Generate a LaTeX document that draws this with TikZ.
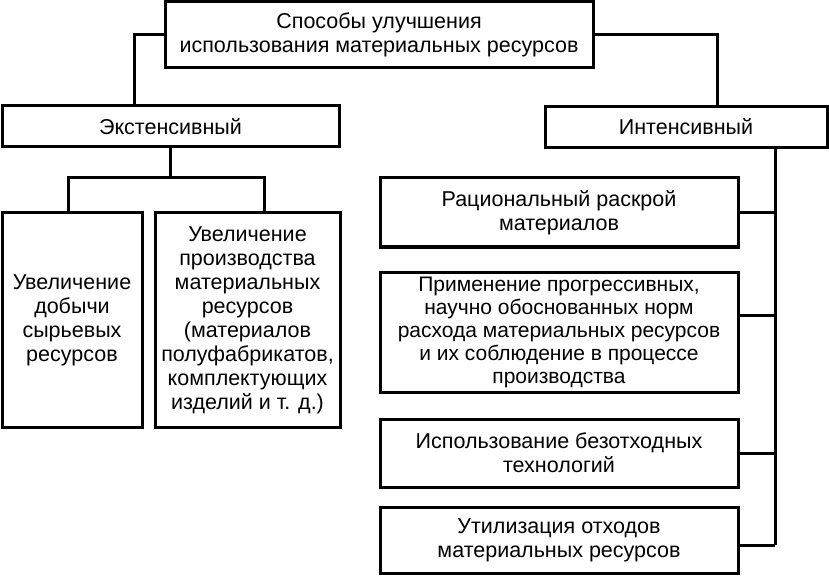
\documentclass[tikz,border=0pt]{standalone}
\usepackage{fontspec}
\setmainfont{Liberation Sans}
\begin{document}
\begin{tikzpicture}[x=1pt,y=-1pt,
  box/.style={draw, line width=3pt, rectangle, inner sep=0pt, align=center,
    font=\fontsize{21.5}{24}\selectfont},
  conn/.style={line width=3pt}]
\useasboundingbox (0,0) rectangle (829,577);
\node[box, minimum width=428, minimum height=66] (top) at (379,35)
  {Способы улучшения\\использования материальных ресурсов};
\node[box, minimum width=337, minimum height=41] (ext) at (170.5,126.5) {Экстенсивный};
\node[box, minimum width=282, minimum height=41] (int) at (686,127) {Интенсивный};
\node[box, minimum width=140, minimum height=214] (l1) at (72,320)
  {Увеличение\\добычи\\сырьевых\\ресурсов};
\node[box, minimum width=185, minimum height=214] (l2) at (247.5,320)
  {Увеличение\\производства\\материальных\\ресурсов\\(материалов\\полуфабрикатов,\\комплектующих\\изделий и т. д.)};
\node[box, minimum width=358, minimum height=69] (r1) at (559,212.5)
  {Рациональный раскрой\\материалов};
\node[box, minimum width=358, minimum height=120, font=\fontsize{21}{23}\selectfont] (r2) at (559,332)
  {Применение прогрессивных,\\научно обоснованных норм\\расхода материальных ресурсов\\и их соблюдение в процессе\\производства};
\node[box, minimum width=358, minimum height=68] (r3) at (559,453)
  {Использование безотходных\\технологий};
\node[box, minimum width=358, minimum height=66] (r4) at (559,540)
  {Утилизация отходов\\материальных ресурсов};
\coordinate (cl) at (134,35);
\coordinate (cr) at (717,35);
\coordinate (eb) at (170.5,178);
\coordinate (ea) at (68,178);
\coordinate (ec) at (264,178);
\coordinate (ia) at (775,148);
\coordinate (iz) at (775,545);
\draw[conn] (top.west) -- (cl) -- (cl |- ext.north);
\draw[conn] (top.east) -- (cr) -- (cr |- int.north);
\draw[conn] (ext.south) -- (eb);
\draw[conn] (ea |- l1.north) -- (ea) -- (ec) -- (ec |- l2.north);
\draw[conn] (ia) -- (iz);
\draw[conn] (r1.east) -- (r1.east -| ia);
\draw[conn] ([yshift=17pt]r2.east) -- ([yshift=17pt]r2.east -| ia);
\draw[conn] (r3.east) -- (r3.east -| ia);
\draw[conn] ([yshift=-5pt]r4.east) -- (iz);
\end{tikzpicture}
\end{document}
